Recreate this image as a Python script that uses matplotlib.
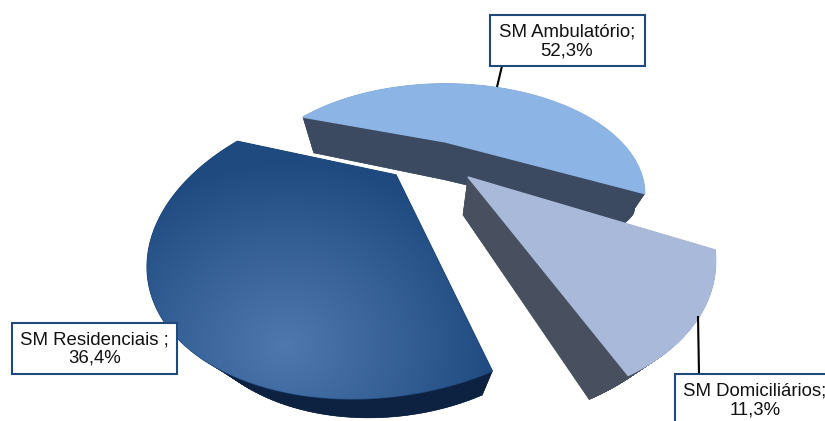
import numpy as np
import matplotlib
matplotlib.use('Agg')
import matplotlib.pyplot as plt
from matplotlib.collections import PolyCollection
from matplotlib.colors import LinearSegmentedColormap
from matplotlib.patches import Polygon, Rectangle

plt.rcParams['font.family'] = ['Liberation Sans', 'DejaVu Sans']

# -----------------------------------------------------------------------------

names = ['SM Ambulatório;', 'SM Domiciliários;', 'SM Residenciais ;']
values = [52.3, 11.3, 36.4]

top_colors = ['#8CB4E5', '#A9B9DA', '#1F4A80']
wall_colors = ['#3B4A60', '#484F5E', '#0D2240']

start_angle = 160.3

# projection of each exploded slice: apex in px, then A, B, shear, perspective
views = [
    (445.5, 142, 175.5, 85.6, 0, 0.473),
    (468, 177, 211, 122, -16, 0.459),
    (396, 175, 203.9, 116, 22.7, 0.482),
]
# depth shift in px at three points of each slice's disk (u, v, dx, dy)
depths = [
    [(0, 0, 0, 38), (-0.94, 0.34, 11, 36), (0.88, -0.47, -20, 29)],
    [(0, 0, -5, 38), (0.88, -0.47, -20, 30), (0.36, -0.93, -39, 24)],
    [(0.36, -0.93, -10, 24), (-0.05, -1, 7, 18), (-0.94, 0.34, 45, 12)],
]
# label boxes: x0, y0, x1, y1, and where the leader goes
boxes = [
    (489.5, 15, 644.5, 66),
    (675, 374, 835, 428),
    (11.5, 322.5, 177, 374),
]
leaders = [
    ((497, 87), (502, 66)),
    ((698, 316), (699, 374)),
    None,
]

# -----------------------------------------------------------------------------

def project(view, u, v):
    cx, cy, a, b, s, k = view
    w = 1 + k * v
    return cx + (a * u + s * v) / w, cy - b * v / w


def depth_shift(samples, u, v):
    m = np.array([[1, p[0], p[1]] for p in samples])
    cf_x = np.linalg.solve(m, [p[2] for p in samples])
    cf_y = np.linalg.solve(m, [p[3] for p in samples])
    return (cf_x[0] + cf_x[1] * u + cf_x[2] * v,
            cf_y[0] + cf_y[1] * u + cf_y[2] * v)

# -----------------------------------------------------------------------------

fig = plt.figure(figsize=(8.25, 4.21), dpi=100)
ax = fig.add_axes([0, 0, 1, 1])
ax.set_xlim(0, 825)
ax.set_ylim(421, 0)
ax.axis('off')

# far slices first, the small one goes over the big light one
draw_order = [2, 0, 1]
spans = np.array(values) * 3.6
starts = start_angle - np.concatenate([[0], np.cumsum(spans)[:-1]])

for z, i in enumerate(draw_order):
    theta = np.radians(np.linspace(starts[i], starts[i] - spans[i], 160))
    u = np.concatenate([[0], np.cos(theta)])
    v = np.concatenate([[0], np.sin(theta)])
    x, y = project(views[i], u, v)
    dx, dy = depth_shift(depths[i], u, v)
    top = np.column_stack([x, y])
    bot = np.column_stack([x + dx, y + dy])

    quads = []
    for j in range(len(top)):
        n = (j + 1) % len(top)
        quads.append([top[j], top[n], bot[n], bot[j]])
    ax.add_collection(PolyCollection(quads, facecolors=wall_colors[i],
                                     edgecolors=wall_colors[i], linewidths=0.4,
                                     zorder=2 + z * 2))
    ax.add_patch(Polygon(bot, closed=True, fc=wall_colors[i], ec='none',
                         zorder=2 + z * 2))

    face = Polygon(top, closed=True, fc=top_colors[i], ec=top_colors[i], lw=1,
                   zorder=3 + z * 2)
    ax.add_patch(face)

    if i == 2:
        # the big dark slice has a soft light patch in its lower part
        gx, gy = np.meshgrid(np.arange(130, 510), np.arange(130, 430))
        t = np.hypot((gx - 285) / 215, (gy - 345) / 185).clip(0, 1)
        cmap = LinearSegmentedColormap.from_list('res', ['#4F79AE', '#1F4A80'])
        im = ax.imshow(t, extent=(130, 510, 430, 130), cmap=cmap, vmin=0, vmax=1,
                       zorder=3 + z * 2, aspect='auto')
        im.set_clip_path(face)

ax.set_xlim(0, 825)
ax.set_ylim(421, 0)

for i in range(len(names)):
    x0, y0, x1, y1 = boxes[i]
    if leaders[i] is not None:
        ax.plot(*zip(*leaders[i]), color='k', lw=1.5, zorder=10,
                solid_capstyle='butt')
    ax.add_patch(Rectangle((x0, y0), x1 - x0, y1 - y0, fc='white', ec='#1F497D',
                           lw=1.5, zorder=11, clip_on=False))
    label = names[i] + '\n' + f'{values[i]:.1f}'.replace('.', ',') + '%'
    ax.text((x0 + x1) / 2, y0 + 26.5, label, ha='center', va='center', fontsize=13.4,
            linespacing=1.12, color='#111111', zorder=12)

fig.savefig('out.png', dpi=100)
